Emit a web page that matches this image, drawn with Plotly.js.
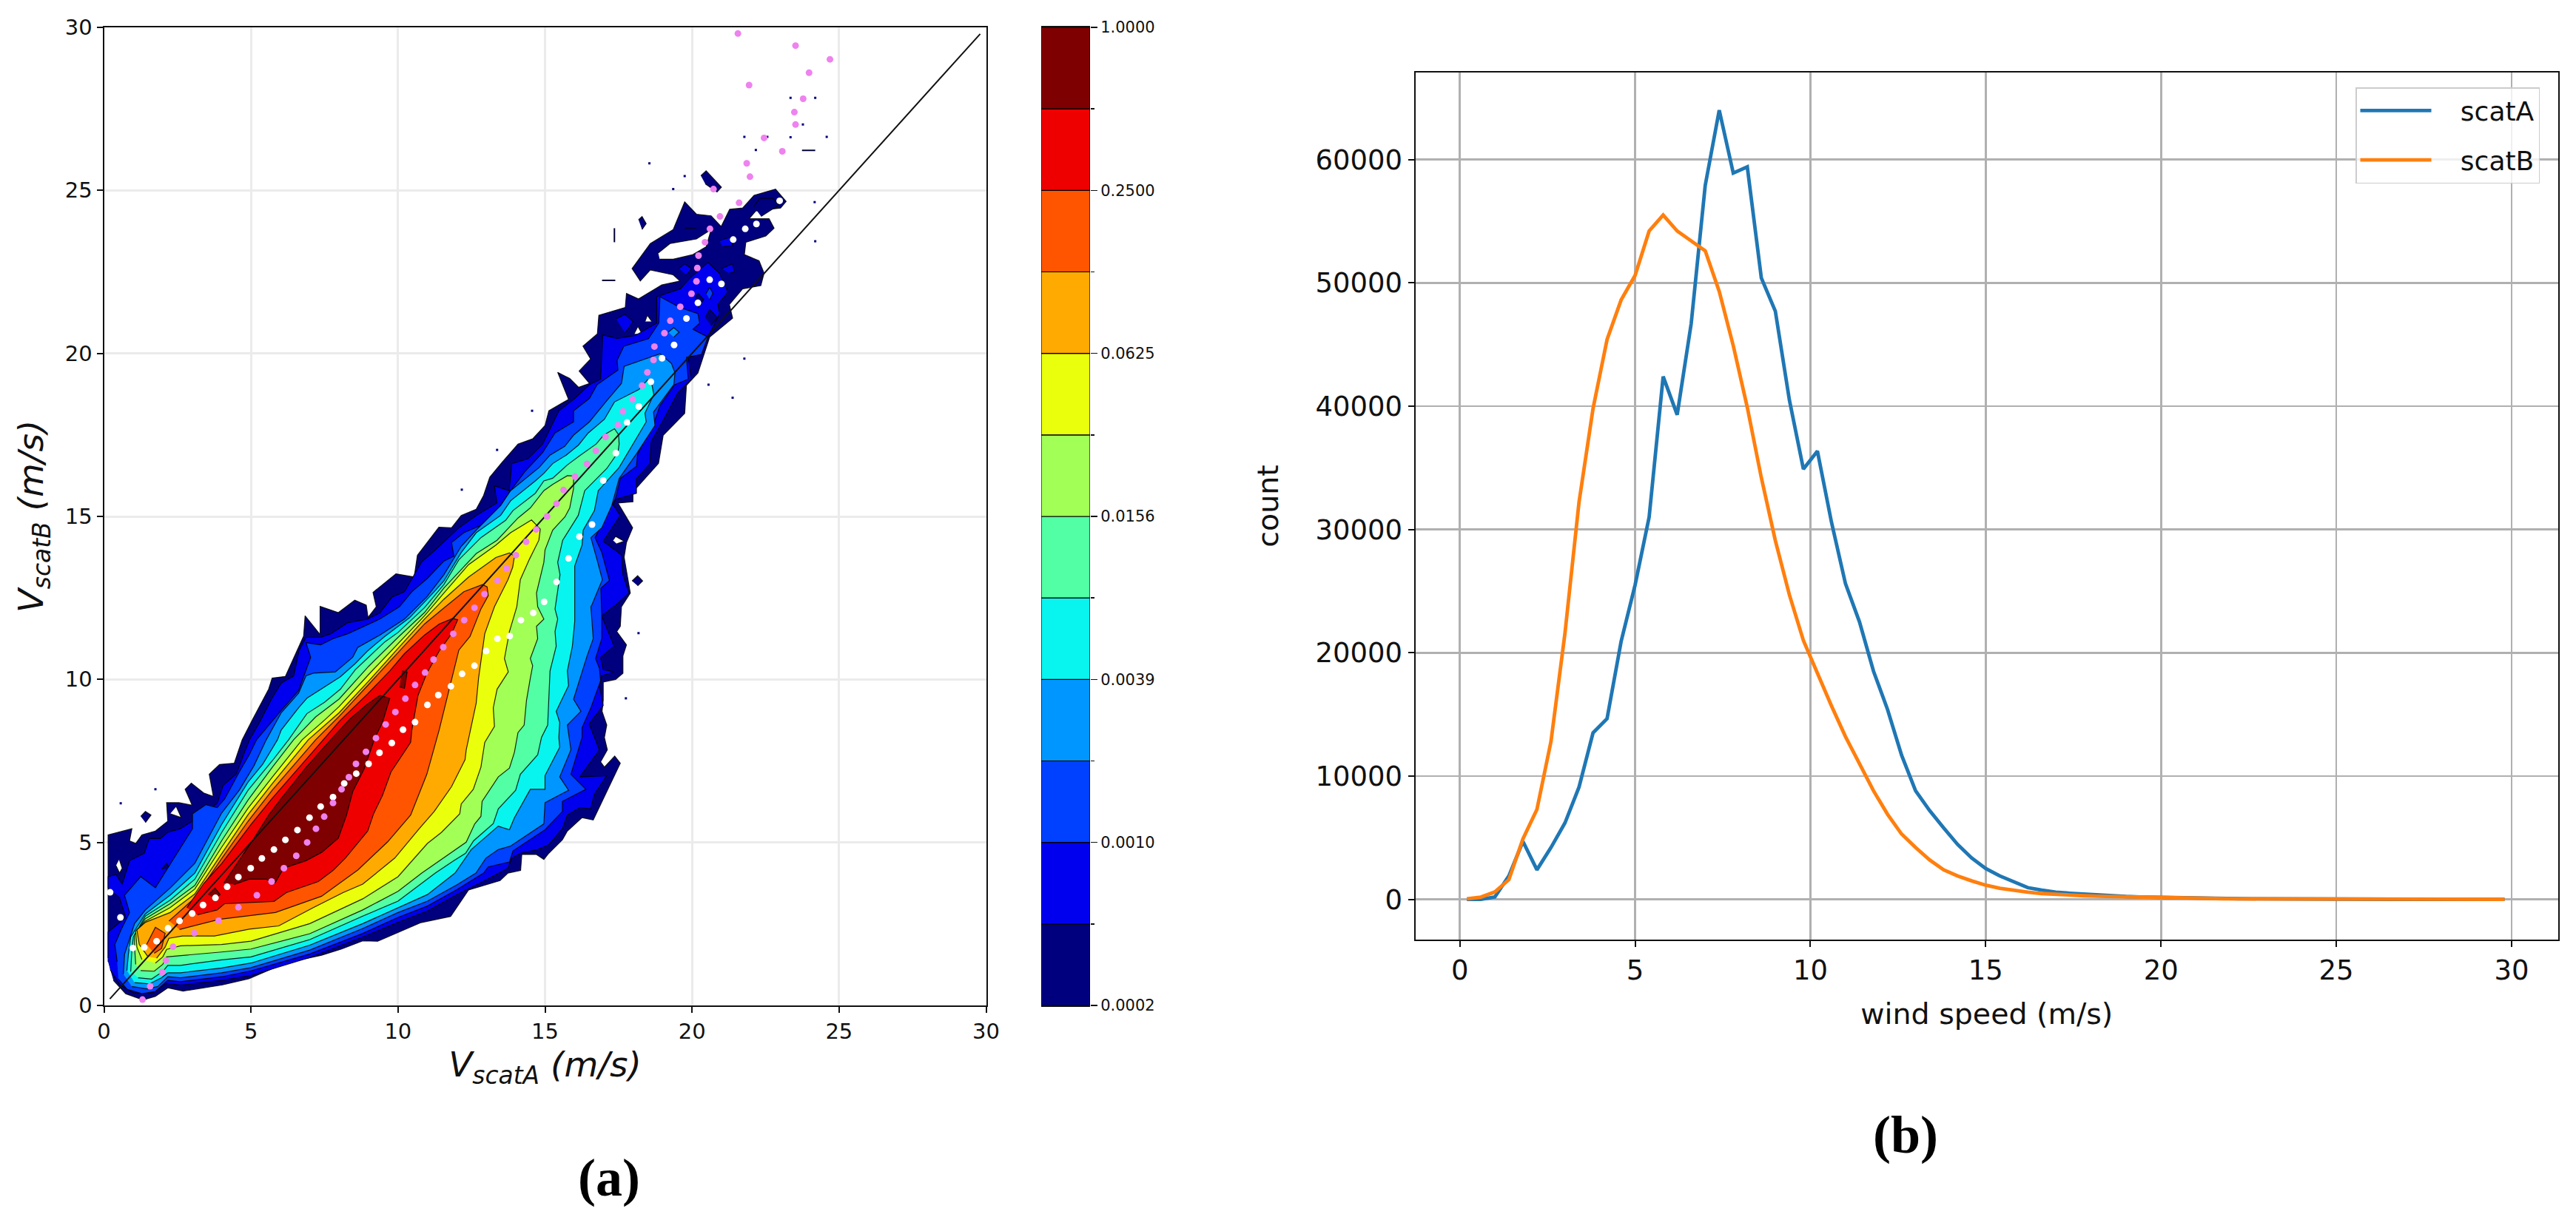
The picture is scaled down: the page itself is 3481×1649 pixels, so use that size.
<!DOCTYPE html>
<html><head><meta charset="utf-8">
<script src="https://cdn.plot.ly/plotly-3.0.1.min.js"></script>
<style>html,body{margin:0;padding:0;background:#fff;overflow:hidden}#c{width:3481px;height:1649px}</style>
</head><body><div id="c"></div>
<script>
// Panel (b) histogram
const windSpeedBins=[0.2,0.6,1,1.4,1.8,2.2,2.6,3,3.4,3.8,4.2,4.6,5,5.4,5.8,6.2,6.6,7,7.4,7.8,8.2,8.6,9,9.4,9.8,10.2,10.6,11,11.4,11.8,12.2,12.6,13,13.4,13.8,14.2,14.6,15,15.4,15.8,16.2,16.6,17,17.4,17.8,18.2,18.6,19,19.4,19.8,20.2,20.6,21,21.4,21.8,22.2,22.6,23,23.4,23.8,24.2,24.6,25,25.4,25.8,26.2,26.6,27,27.4,27.8,28.2,28.6,29,29.4,29.8];
const scatACounts=[0,0,200,1900,4700,2400,4200,6200,9100,13500,14650,20900,25500,31000,42400,39300,46700,57900,64000,58900,59400,50400,47700,40500,34900,36350,30600,25600,22500,18500,15400,11700,8800,7200,5800,4450,3350,2500,1900,1400,950,750,580,500,420,330,270,230,190,160,130,100,90,70,60,50,40,30,25,20,18,15,12,10,8,6,5,4,3,3,2,2,1,1,1];
const scatBCounts=[50,180,600,1600,4900,7300,12800,21600,32200,39800,45400,48600,50600,54200,55500,54200,53400,52600,49300,44900,39900,34200,29100,24700,21000,18300,15700,13200,11000,8800,6900,5300,4200,3200,2400,1900,1500,1150,900,720,580,470,390,340,290,250,220,190,160,130,110,90,80,60,50,40,35,30,25,20,15,12,10,8,6,5,4,3,3,2,2,1,1,1,1];
const seriesNames=['scatA','scatB'];
// Panel (a): contour level outlines, [scatA, scatB] in m/s, outermost (lowest density) first
const band1=[[.14,1.34],[.14,5.23],[.95,5.42],[.87,5.05],[1.08,4.97],[1.29,5.23],[1.75,5.35],[2.17,5.65],[2.13,6.22],[2.55,6.22],[3,6.14],[2.76,6.63],[2.97,6.82],[3.39,6.52],[3.72,6.41],[3.58,7.09],[3.93,7.39],[4.43,7.43],[4.7,8.15],[5.04,8.75],[5.6,9.7],[5.72,10.04],[6.17,10.09],[6.79,11.33],[6.84,11.95],[7.35,11.38],[7.35,12.24],[7.97,12.05],[8.53,12.43],[8.92,12.28],[8.98,11.9],[9.26,12.23],[9.15,12.67],[9.93,13.24],[10.55,13.14],[10.66,13.81],[11.39,14.67],[11.82,14.65],[12.15,15.03],[12.66,15.22],[12.91,15.64],[13.12,16.2],[13.54,16.66],[14.08,17.22],[14.58,17.38],[15,17.79],[15.13,18.24],[15.8,18.59],[15.43,19.42],[15.84,19.23],[16.14,18.96],[16.51,19.08],[16.16,19.46],[16.55,19.83],[16.29,20.22],[16.78,20.6],[16.83,21.17],[17.73,21.41],[17.77,21.84],[18.18,21.67],[18.97,22.1],[19.59,22.22],[19.36,22.41],[18.58,22.56],[18.24,22.22],[17.96,22.6],[18.58,23.37],[19.36,23.8],[19.75,24.65],[20.15,24.27],[20.65,24.22],[20.99,23.89],[21.28,24.42],[21.72,24.46],[22.11,24.85],[22.84,25.04],[23.2,24.66],[23.01,24.46],[22.17,24.37],[21.94,24.13],[22.62,24.13],[22.79,23.84],[22.51,23.6],[21.83,23.41],[21.78,23.03],[22.28,22.84],[22.45,22.46],[22.34,22.08],[21.72,21.98],[21.27,21.5],[21.38,21.08],[20.6,20.5],[20.2,19.4],[19.81,19.02],[19.75,18.16],[19.02,17.49],[18.86,16.63],[18.13,15.87],[17.99,15.75],[17.99,15.45],[17.48,15.41],[17.98,14.65],[17.77,14.2],[17.69,13.75],[17.9,12.65],[17.6,12.23],[17.56,11.63],[17.44,11.47],[17.77,11.06],[17.65,10.72],[17.65,10.19],[17.4,10],[16.98,9.92],[16.98,9.36],[16.94,9.02],[17.1,8.6],[17.02,8.22],[17.12,7.84],[16.89,7.47],[17.02,7.31],[17.37,7.65],[17.56,7.43],[17.18,6.71],[17.1,6.56],[16.64,5.69],[16.26,5.76],[15.76,5.35],[15.59,5.08],[15.13,4.67],[14.96,4.48],[14.71,4.63],[14.21,4.63],[14.17,4.14],[13.74,4.06],[13.47,3.83],[12.4,3.54],[11.79,2.73],[10.78,2.54],[9.31,1.97],[8.8,1.98],[8.08,1.73],[7.4,1.54],[6.17,1.3],[4.93,.82],[4.03,.63],[2.69,.44],[2.17,.54],[1.75,.28],[1.33,.17],[.74,.36],[.32,.77]];
const band2=[[.14,1.45],[.14,2.25],[.74,2.7],[.53,3.3],[.14,3.6],[.14,3.95],[.41,4.02],[.62,3.72],[.87,4.44],[1.37,4.67],[1.54,5.12],[1.92,5.12],[2.17,5.31],[2.59,5.42],[3,5.65],[3.39,5.9],[3.85,6.2],[4.05,6.75],[4.5,7.1],[4.75,7.7],[4.95,8.15],[5.3,8.7],[5.7,9.4],[6.03,9.89],[6.45,10.11],[6.63,10.87],[6.87,11.29],[7.37,11.29],[7.71,11.4],[8.29,11.74],[8.96,11.85],[9.38,12.04],[9.8,12.53],[10.22,12.69],[10.8,13.6],[11.3,14],[11.61,14.27],[12.07,14.65],[12.66,15.03],[13.36,15.41],[13.28,15.94],[13.78,15.79],[13.87,16.62],[14.42,16.77],[14.92,17.22],[15.09,17.53],[15.47,18.24],[16.01,18.62],[16.51,19.04],[16.89,19.21],[16.96,20.57],[17.45,20.46],[18.07,20.55],[18.8,20.93],[18.8,21.74],[19.6,21.98],[19.93,22.31],[20.54,22.79],[20.93,22.46],[21.22,21.89],[20.88,21.5],[20.94,21.22],[20.54,20.5],[20.2,19.97],[19.87,19.88],[19.98,19.21],[19.53,18.81],[18.99,17.9],[18.61,17.3],[18.57,16.62],[18.11,16.16],[18.11,15.71],[17.4,15.52],[17.31,15.37],[17.56,15.03],[16.98,14.24],[17.6,13.82],[17.65,13.21],[17.86,12.65],[17.5,12.35],[16.93,11.95],[17.35,11.02],[16.89,10.68],[16.98,10.3],[17.35,10.23],[16.93,10.11],[16.85,9.81],[16.98,9.2],[16.5,8.64],[16.85,7.84],[16.18,7.01],[17.1,7.05],[16.68,6.48],[16.55,6.03],[16.18,6.07],[15.76,5.84],[15.59,5.42],[15.13,4.93],[14.75,4.78],[14.17,4.67],[13.87,4.52],[13.74,4.21],[13,3.85],[12,3.4],[11,2.9],[10,2.55],[8.8,2.1],[7,1.47],[5,.92],[4,.77],[2.6,.62],[2.12,.68],[1.67,.39],[1,.39],[.55,.63],[.21,1.1]];
const band3=[[.45,1.34],[.37,1.87],[.58,2.32],[.87,2.85],[.7,3.38],[1.25,3.95],[1.75,3.61],[2.63,4.89],[3.01,5.42],[3.01,5.88],[3.47,6.16],[3.85,6.07],[4.1,6.33],[4.6,7.16],[4.94,7.69],[5.19,8.15],[5.6,8.6],[6.03,9.05],[6.62,9.66],[6.87,10.26],[7.03,10.68],[6.87,11.13],[7.37,11.06],[7.79,11.25],[8.29,11.4],[9.38,11.85],[10.05,12.23],[10.47,12.69],[11,13.1],[11.56,13.63],[11.9,13.78],[11.82,14.2],[12.24,14.5],[13.12,14.84],[13.54,15.41],[13.83,15.79],[14.33,16.39],[14.92,16.96],[15.34,17.56],[15.97,17.9],[15.97,18.24],[16.51,18.62],[16.77,19.04],[17.48,19.49],[17.45,19.78],[17.68,20.22],[18.52,20.45],[18.87,20.93],[18.91,21.74],[19.58,21.41],[20.2,21.22],[20.26,20.93],[20.03,20.74],[20.54,20.5],[20.32,19.97],[19.81,19.88],[19.87,19.21],[19.41,19.04],[18.91,18.4],[18.69,17.83],[18.15,16.92],[18.11,16.54],[17.56,16.16],[17.4,15.56],[16.7,14.35],[16.93,13.9],[17.19,13.03],[16.9,12.8],[16.93,11.97],[16.93,11.25],[16.72,10.64],[16.85,10.34],[16.89,9.96],[16.56,9.13],[16.26,8.52],[16.26,8.22],[15.88,7.09],[16.39,6.63],[15.59,6.26],[15.59,5.95],[15,5.39],[13.91,4.74],[13.79,4.4],[13.07,4.25],[12.91,4.06],[12,3.55],[11,3.05],[10,2.7],[8.8,2.21],[7,1.58],[5,1.06],[4,.88],[2.6,.73],[2.17,.77],[1.75,.43],[1.29,.36],[.78,.5],[.49,.81]];
const band4=[[.66,.96],[.7,1.57],[1.04,2.51],[1.41,2.93],[2.25,3.6],[3.09,4.36],[4,5.9],[4.6,6.6],[5.1,7.35],[5.52,8.15],[6.03,8.98],[6.62,9.58],[6.87,10.11],[7.12,10.19],[7.87,10.23],[8.46,10.68],[8.63,10.98],[9.38,11.36],[10.22,11.85],[10.98,12.53],[11.56,13.21],[12.15,14.08],[12.66,14.58],[13.49,15.33],[13.83,15.79],[14.5,16.28],[14.8,16.5],[15.17,16.88],[15.67,17.15],[15.97,17.49],[16.51,17.9],[17.1,18.55],[17.6,19.08],[17.69,19.6],[18.41,19.83],[18.91,19.99],[19.3,19.69],[19.42,19.4],[19.38,19.04],[18.95,18.51],[18.69,18.2],[18.74,17.79],[18.11,16.92],[17.52,16.16],[17.27,15.33],[16.93,14.65],[16.56,14.35],[16.77,13.67],[16.95,13.06],[16.6,12.3],[16.56,12.23],[16.64,11.25],[16.43,10.72],[15.97,9.39],[16.22,9.02],[15.76,8.6],[15.88,7.84],[15.5,7.01],[15.8,6.6],[15,6.22],[14.96,5.57],[13.83,4.89],[13.41,4.78],[12.99,4.52],[12.65,4.06],[12,3.7],[11,3.2],[10,2.85],[8.8,2.36],[7,1.7],[5,1.16],[4,1],[2.6,.85],[2.17,.88],[1.83,.58],[1.46,.51],[.95,.58]];
const band5=[[.78,1.07],[.83,1.57],[.91,2.1],[1.41,2.81],[2.25,3.38],[3.09,4.06],[4,5.55],[4.9,6.85],[5.4,7.4],[5.9,8.15],[6.03,8.45],[6.62,9.13],[6.91,9.43],[7.45,9.74],[8.04,10.08],[8.55,10.49],[8.96,10.87],[9.55,11.32],[10.39,11.89],[11.23,12.69],[11.56,13.02],[12.15,13.89],[12.66,14.5],[13.49,15.03],[13.83,15.48],[14.67,16.09],[14.96,16.32],[15.26,16.62],[15.72,16.88],[16.14,17.19],[16.47,17.56],[17.02,17.98],[17.36,18.51],[18.19,18.89],[18.49,19.19],[18.6,19.2],[18.7,18.74],[18.4,18.17],[18.44,17.9],[17.52,16.5],[16.81,15.79],[16.68,15.18],[16.3,14.58],[16.26,14.12],[16.01,13.48],[16.01,11.78],[15.93,11.02],[15.76,10.26],[15.8,9.81],[15.38,9.02],[15.5,8.68],[15.47,8.22],[15.5,7.92],[15,7.05],[15,6.63],[14.5,6.63],[13.96,5.76],[13.79,5.39],[13.41,5.5],[12.49,4.78],[11.94,4.06],[11,3.4],[10,3],[8.8,2.51],[7,1.85],[5,1.3],[4,1.15],[2.6,1],[2.17,1],[1.96,.85],[1.54,.66],[1.04,.7]];
const band6=[[.91,1.04],[.95,1.72],[1,2.1],[1.41,2.74],[2.25,3.23],[3.09,3.87],[4,5.3],[4.9,6.6],[5.72,7.5],[6.28,8.15],[6.9,8.95],[7.5,9.3],[8.04,9.7],[8.55,10.3],[8.96,10.65],[9.55,11.15],[10,11.44],[10.9,12.2],[11.56,12.91],[12.07,13.67],[12.82,14.35],[13.66,14.88],[13.91,15.18],[14.67,15.71],[14.96,16.09],[15.26,16.17],[15.76,16.58],[16.16,16.85],[16.74,17.22],[16.99,17.49],[17.36,17.69],[17.5,17.51],[17.52,17.22],[17.48,16.96],[17.1,16.47],[16.35,15.79],[16.13,15.03],[15.6,14.27],[15.43,13.59],[15.51,13.21],[15.34,12.16],[15.43,11.85],[15.34,11.47],[15.38,11.02],[15.17,10.26],[15.13,9.58],[15.09,8.6],[14.88,8.22],[14.75,7.69],[14.16,7.09],[14,6.6],[13.41,6.03],[13.24,5.58],[12.57,5.05],[12.3,4.67],[11.9,4.44],[11.27,4.06],[10,3.2],[8.8,2.74],[7,2.02],[5,1.49],[4,1.4],[2.6,1.23],[2.17,1.23],[2,1.04],[1.62,.81],[1.16,.85]];
const band7=[[1.08,1.26],[1.04,1.79],[1.04,2.17],[1.41,2.66],[2.25,3.12],[3.09,3.68],[4,5.05],[4.9,6.3],[5.72,7.3],[6.45,8.15],[7.2,8.85],[8,9.4],[9,10.4],[10,11.29],[10.9,12.05],[11.56,12.8],[12.15,13.37],[12.66,13.86],[13.37,14.27],[14.08,14.95],[14.5,15.26],[14.96,15.79],[15.26,15.98],[15.76,16.25],[15.97,16.24],[15.97,15.86],[15.84,15.26],[15.68,14.99],[15.26,14.58],[15,13.97],[14.96,13.59],[14.71,12.65],[14.75,12.23],[14.96,11.85],[14.71,11.63],[14.75,11.25],[14.5,10.64],[14.58,10.42],[14.5,10.04],[14.37,9.36],[14.29,8.6],[14.08,8.37],[13.96,7.77],[13.79,7.28],[13.41,7.01],[12.86,6.26],[12.82,5.8],[12.61,5.57],[12.32,5.01],[11.4,4.44],[10.81,4.06],[10,3.5],[8.8,2.93],[7,2.2],[5,1.73],[4,1.64],[2.6,1.53],[2.13,1.49],[2,1.26],[1.71,1.05],[1.25,1.07]];
const band8=[[1.29,1.41],[1.12,1.79],[1.08,2.28],[1.41,2.59],[2.25,3],[3.09,3.57],[4,4.85],[4.9,6.05],[5.72,7],[6.74,8.15],[7.5,8.75],[8,9.17],[9,10.15],[10,11.1],[10.9,11.95],[11.56,12.65],[12.4,13.52],[13.33,14.12],[13.83,14.5],[14.54,14.89],[14.84,14.61],[14.79,14.27],[14.46,13.67],[14.16,13.06],[14.04,12.23],[13.79,11.47],[13.62,10.64],[13.75,10.23],[13.37,9.7],[13.24,9.13],[13.28,8.56],[12.95,8.07],[12.82,7.31],[12.56,6.63],[12.15,6.18],[12.1,5.88],[11.48,5.31],[11,4.97],[10,3.95],[8.8,3.27],[7,2.51],[5,1.97],[4,1.87],[2.6,1.83],[2.13,1.72],[2,1.49],[1.75,1.3]];
const band9=[[1.5,1.49],[1.2,1.87],[1.12,2.32],[1.41,2.55],[2.25,2.85],[3.09,3.42],[4,4.65],[4.9,5.85],[5.72,6.8],[6.95,8.15],[8,8.98],[9,9.95],[10,10.95],[10.9,11.85],[11.56,12.46],[12.4,13.14],[13.33,13.74],[13.79,13.88],[13.96,13.78],[13.9,13.44],[13.74,13.06],[13.28,12.23],[12.95,11.4],[12.74,10.04],[12.66,9.28],[12.32,7.84],[12.28,7.54],[11.82,6.71],[11.23,5.95],[10.72,5.42],[9.89,4.52],[8.8,3.72],[8.13,3.46],[7.12,3],[5.94,2.44],[4.94,2.34],[3.76,2.13],[2.67,2.13],[2.21,2.06],[2.08,1.79],[1.79,1.45]];
const band10=[[2.21,2.59],[2.84,3.1],[3.09,3.3],[4,4.5],[4.9,5.65],[5.72,6.6],[7.2,8.15],[8,8.87],[9,9.85],[10,10.83],[10.9,11.7],[11.56,12.19],[12.24,12.69],[12.87,12.91],[13.03,12.84],[13.07,12.57],[12.82,12.16],[12.45,11.32],[12.07,10.9],[11.73,9.66],[11.4,8.45],[10.98,7.09],[10.43,5.84],[9.65,5.02],[8.64,4.16],[7.4,3.35],[5.83,2.85],[3.92,2.64],[2.57,2.33]];
const band10Lobe=[[1.45,1.87],[1.75,2.4],[2.08,2.21],[1.96,1.75],[1.71,1.6]];
const band11=[[2.82,3],[3.4,3.75],[4,4.35],[5,5.55],[5.72,6.35],[6.5,7.15],[7.45,8.15],[8,8.71],[8.96,9.55],[9.72,10.26],[10.22,10.79],[10.9,11.36],[11.4,11.7],[11.86,11.87],[12.03,11.83],[11.82,11.4],[11.4,10.87],[10.98,10.19],[10.68,9.51],[10.47,8.45],[10.43,8.07],[10.05,7.54],[9.76,7.16],[9.47,6.44],[9.17,5.88],[8.97,5.35],[8.21,4.52],[7.79,4.14],[7.29,3.8],[6.2,3.46],[5.78,3.19],[4.1,3.12],[3.85,2.93],[3.18,2.78]];
const band12=[[4.08,3.76],[4.6,4.45],[5.1,5.12],[5.61,5.85],[6.03,6.35],[6.87,7.3],[7.71,8.15],[8.38,8.8],[8.96,9.24],[9.38,9.51],[9.72,9.42],[9.47,8.68],[9.22,8.22],[8.84,7.24],[8.46,6.56],[8.25,5.84],[7.97,5.13],[7.41,4.7],[6.87,4.44],[6.11,4.21],[5.82,3.76],[5.52,3.87],[4.94,3.87],[4.43,3.71]];
const band12Isle1=[[3.55,3.4],[3.78,3.6],[3.95,3.4],[3.76,3.28]];
const band12Isle2=[[10.14,10.26],[10.31,10.23],[10.22,9.73],[10.05,9.77]];
// islands of the outer levels and empty holes
const navyIsles=[[[1.25,5.8],[1.41,5.95],[1.6,5.84],[1.41,5.61]],[[17.96,13.02],[18.15,13.18],[18.32,13.02],[18.15,12.87]],[[20.3,25.45],[20.48,25.6],[21.0,25.1],[20.85,24.95],[20.45,25.2]],[[22.1,24.5],[22.3,24.76],[22.75,24.76],[22.95,24.55],[22.35,24.2]],[[18.18,24.1],[18.3,24.2],[18.44,23.98],[18.3,23.8]]];
const holes=[[[18.85,23.08],[19.25,23.37],[20.15,23.51],[20.65,23.8],[20.48,23.27],[20.03,23.03],[19.36,22.89],[18.9,22.89]],[[.52,4.48],[.62,4.21],[.53,4.06],[.41,4.29]],[[2.46,6.1],[2.63,5.76],[2.25,5.88]],[[18.4,20.98],[18.48,21.17],[18.63,20.98]],[[18.03,20.6],[18.16,20.83],[18.3,20.6]],[[17.31,14.27],[17.4,14.39],[17.69,14.24],[17.44,14.16]]];
const band2Isles=[[[17.42,21.06],[17.72,21.2],[18,20.97],[17.72,20.63]],[[19.55,22.6],[19.75,22.75],[19.98,22.6],[19.81,22.41]],[[20.93,23.46],[21.28,23.56],[21.38,23.31],[21.04,23.27]],[[21,22.6],[21.38,22.75],[21.44,22.5],[21.27,22.46]]];
const navyInBand2=[[[1.96,4.18],[2.13,4.36],[2.25,4.18]],[[20.45,21.1],[20.6,21.35],[20.85,21.1],[20.65,20.85]],[[20.1,21.7],[20.2,21.85],[20.4,21.65],[20.2,21.4]]];
const band3Isle=[[20.48,21.84],[20.6,22.03],[20.71,21.84],[20.6,21.65]];
const band4Isle=[[19.19,20.65],[19.38,20.79],[19.56,20.65],[19.38,20.5]];
const speckX=[23.35,24.19,23.77,21.78,22.56,23.35,24.58,22.17,18.55,19.75,19.36,24.17,24.19,21.78,20.56,21.38,14.56,1.75,.57,18.18,17.75,13.37,12.17,15.76];
const speckY=[27.84,27.84,27.02,26.64,26.64,26.63,26.64,26.24,25.83,25.44,25.04,24.64,23.44,19.84,19.04,18.64,18.24,6.63,6.2,11.42,9.42,17.04,15.82,19.02];
const dashX=[17.36,17.36,null,16.94,17.39,null,19.75,20.15,null,23.74,24.19];
const dashY=[23.84,23.41,null,22.24,22.24,null,23.84,23.84,null,26.23,26.23];
const identityX=[0.2,29.8];
const identityY=[0.2,29.8];
const whiteX=[.21,.56,.98,1.37,1.79,2.18,2.57,3,3.37,3.79,4.19,4.57,4.99,5.37,5.78,6.17,6.58,6.99,7.37,7.79,8.17,8.58,9,9.37,9.79,10.17,10.58,11,11.37,11.8,12.18,12.6,13,13.38,13.8,14.18,14.6,14.97,15.39,15.8,16.17,16.6,16.98,17.41,17.79,18.19,18.6,18.98,19.39,19.81,20.2,20.6,21,21.4,21.81,22.19,22.98];
const whiteY=[3.47,2.7,1.76,1.78,1.97,2.37,2.59,2.82,3.08,3.3,3.64,3.94,4.21,4.51,4.78,5.08,5.38,5.76,6.1,6.39,6.81,7.11,7.41,7.75,8.05,8.46,8.69,9.22,9.52,9.79,10.17,10.42,10.87,11.25,11.33,11.82,12.04,12.38,12.99,13.71,14.38,14.75,16.1,16.94,17.88,18.37,19.13,19.85,20.26,21.07,21.55,22.26,22.13,23.49,23.82,23.97,24.68];
const violetX=[1.31,1.57,1.98,2.11,2.35,3.07,3.9,4.57,5.2,5.7,6.12,6.54,6.91,7.21,7.49,7.79,8.08,8.33,8.57,8.91,9.25,9.58,9.91,10.25,10.58,10.92,11.21,11.54,11.88,12.25,12.6,12.94,13.38,13.69,14.01,14.36,14.7,15.07,15.39,15.63,16.02,16.43,16.73,17.06,17.48,17.65,17.98,18.3,18.48,18.69,18.72,19.06,19.26,19.6,19.98,20.15,20.18,20.22,20.44,20.61,20.95,21.6,20.73,21.97,21.86,23.07,22.45,23.52,23.48,23.78,21.94,23.98,24.69,23.52,21.56];
const violetY=[.18,.59,1.02,1.38,1.8,2.22,2.6,3.01,3.38,3.8,4.21,4.59,5,5.42,5.79,6.21,6.63,7,7.41,7.78,8.2,8.62,9,9.41,9.83,10.21,10.61,10.99,11.4,11.82,12.2,12.62,13.03,13.41,13.81,14.22,14.6,15,15.39,15.81,16.22,16.61,17.01,17.44,17.8,18.22,18.59,19.01,19.42,19.8,20.21,20.62,21,21.43,21.83,22.21,22.62,23,23.41,23.82,24.2,24.62,25.04,25.42,25.83,26.2,26.61,27.02,27.4,27.81,28.23,28.61,29.02,29.44,29.81];
// Colour bar
const bandColors=['#00007f','#0000ee','#0040ff','#0096ff','#08f4ee','#52ffa5','#a2ff55','#eaff0c','#ffaa00','#ff5500','#ee0000','#7f0000'];
const barStarts=[0,1,2,3,4,5,6,7,8,9,10,11];
const barHeights=[1,1,1,1,1,1,1,1,1,1,1,1];
const barTickVals=[0,2,4,6,8,10,12];
const barMinorVals=[1,3,5,7,9,11];
const barTickText=['0.0002','0.0010','0.0039','0.0156','0.0625','0.2500','1.0000'];

const W=3481,H=1649;
const dx=(a,b)=>[a/W,b/W];
const dy=(top,bot)=>[1-bot/H,1-top/H];
const FONT='"DejaVu Sans", sans-serif';
const LINE='rgba(0,0,0,0.85)';
function poly(pts,color,lw){
  return {type:'scatter',mode:'lines',x:pts.map(p=>p[0]),y:pts.map(p=>p[1]),fill:'toself',fillcolor:color,
    line:{color:LINE,width:lw===undefined?1.2:lw,shape:'linear'},xaxis:'x',yaxis:'y',showlegend:false,hoverinfo:'skip'};
}
const traces=[];
traces.push(poly(band1,bandColors[0]));
navyIsles.forEach(p=>traces.push(poly(p,bandColors[0])));
holes.forEach(p=>traces.push(poly(p,'#ffffff')));
traces.push(poly(band2,bandColors[1]));
navyInBand2.forEach(p=>traces.push(poly(p,bandColors[0])));
band2Isles.forEach(p=>traces.push(poly(p,bandColors[1])));
traces.push(poly(band3,bandColors[2]));
traces.push(poly(band3Isle,bandColors[2]));
traces.push(poly(band4,bandColors[3]));
traces.push(poly(band4Isle,bandColors[3]));
traces.push(poly(band5,bandColors[4]));
traces.push(poly(band6,bandColors[5]));
traces.push(poly(band7,bandColors[6]));
traces.push(poly(band8,bandColors[7]));
traces.push(poly(band9,bandColors[8]));
traces.push(poly(band10,bandColors[9]));
traces.push(poly(band10Lobe,bandColors[9]));
traces.push(poly(band11,bandColors[10]));
traces.push(poly(band12,bandColors[11]));
traces.push(poly(band12Isle1,bandColors[11]));
traces.push(poly(band12Isle2,bandColors[11]));
traces.push({type:'scatter',mode:'markers',x:speckX,y:speckY,marker:{color:bandColors[0],size:3,symbol:'square'},showlegend:false,hoverinfo:'skip'});
traces.push({type:'scatter',mode:'lines',x:dashX,y:dashY,line:{color:'#000033',width:2},showlegend:false,hoverinfo:'skip'});
traces.push({type:'scatter',mode:'lines',x:identityX,y:identityY,line:{color:'#111',width:2},showlegend:false,hoverinfo:'skip'});
traces.push({type:'scatter',mode:'markers',x:whiteX,y:whiteY,marker:{color:'#ffffff',size:9},showlegend:false,hoverinfo:'skip'});
traces.push({type:'scatter',mode:'markers',x:violetX,y:violetY,marker:{color:'#ee82ee',size:9},showlegend:false,hoverinfo:'skip'});
// colour bar as stacked cells
traces.push({type:'bar',x:barStarts.map(()=>0),y:barHeights,base:barStarts,width:1,
  marker:{color:bandColors,line:{color:'#000',width:1.2}},xaxis:'x3',yaxis:'y3',showlegend:false,hoverinfo:'skip'});
// panel b
const legendPad='\u00a0\u00a0\u00a0';
traces.push({type:'scatter',mode:'lines',name:legendPad+seriesNames[0],x:windSpeedBins,y:scatACounts,line:{color:'#1f77b4',width:4.8},xaxis:'x2',yaxis:'y2',legendgroup:'a'});
traces.push({type:'scatter',mode:'lines',name:legendPad+seriesNames[1],x:windSpeedBins,y:scatBCounts,line:{color:'#ff7f0e',width:4.8},xaxis:'x2',yaxis:'y2',legendgroup:'b'});

const layout={
  width:W,height:H,margin:{l:0,r:0,t:0,b:0,pad:0},paper_bgcolor:'#fff',plot_bgcolor:'#fff',
  font:{family:FONT,color:'#111'},bargap:0,
  xaxis:{domain:dx(140.5,1332.5),range:[0,30],dtick:5,tick0:0,showgrid:true,gridcolor:'#ebebeb',gridwidth:3,zeroline:false,
    showline:true,mirror:true,linecolor:'#111',linewidth:2,ticks:'outside',ticklen:8,tickwidth:2,tickcolor:'#111',
    tickfont:{size:29,family:FONT},anchor:'y',
    title:{text:'<i>V<sub>scatA</sub> (m/s)</i>',font:{size:47,family:FONT},standoff:8}},
  yaxis:{domain:dy(37,1359),range:[0,30],dtick:5,tick0:0,showgrid:true,gridcolor:'#ebebeb',gridwidth:3,zeroline:false,
    showline:true,mirror:true,linecolor:'#111',linewidth:2,ticks:'outside',ticklen:8,tickwidth:2,tickcolor:'#111',
    tickfont:{size:29,family:FONT},anchor:'x',
    title:{text:'<i>V<sub>scatB</sub> (m/s)</i>',font:{size:47,family:FONT},standoff:14}},
  xaxis2:{domain:dx(1912.5,3457),range:[-1.27,31.33],dtick:5,tick0:0,showgrid:true,gridcolor:'#b0b0b0',gridwidth:2.6,zeroline:false,
    showline:true,mirror:true,linecolor:'#111',linewidth:2,ticks:'outside',ticklen:8,tickwidth:2,tickcolor:'#111',
    tickfont:{size:37,family:FONT},anchor:'y2',
    title:{text:'wind speed (m/s)',font:{size:39.5,family:FONT},standoff:24}},
  yaxis2:{domain:dy(98,1270),range:[-3264,67056],dtick:10000,tick0:0,tickformat:'d',showgrid:true,gridcolor:'#b0b0b0',gridwidth:2.6,zeroline:false,
    showline:true,mirror:true,linecolor:'#111',linewidth:2,ticks:'outside',ticklen:8,tickwidth:2,tickcolor:'#111',
    tickfont:{size:37,family:FONT},anchor:'x2',
    title:{text:'count',font:{size:39.5,family:FONT},standoff:38}},
  xaxis3:{domain:dx(1407,1473),range:[-.5,.5],showticklabels:false,ticks:'',showgrid:false,zeroline:false,showline:true,mirror:true,linecolor:'#111',linewidth:2,anchor:'y3',fixedrange:true},
  yaxis3:{domain:dy(37,1359),range:[0,12],side:'right',anchor:'x3',tickmode:'array',tickvals:barTickVals,ticktext:barTickText,
    ticks:'outside',ticklen:9,tickwidth:1.5,tickcolor:'#111',showgrid:false,zeroline:false,tickfont:{size:21,family:FONT},
    minor:{tickmode:'array',tickvals:barMinorVals,ticks:'outside',ticklen:5,tickwidth:1.5,tickcolor:'#111',showgrid:false}},
  legend:{x:3183/W,y:1-118/H,xanchor:'left',yanchor:'top',bgcolor:'rgba(255,255,255,0.8)',bordercolor:'#ccc',borderwidth:1.5,
    font:{size:36,family:FONT},itemwidth:96,traceorder:'grouped',tracegroupgap:17},
  annotations:[
    {text:'<b>(a)</b>',x:823/W,y:1-1592/H,xref:'paper',yref:'paper',xanchor:'center',yanchor:'middle',showarrow:false,font:{size:72,family:'"Liberation Serif", serif',color:'#000'}},
    {text:'<b>(b)</b>',x:2575/W,y:1-1534/H,xref:'paper',yref:'paper',xanchor:'center',yanchor:'middle',showarrow:false,font:{size:72,family:'"Liberation Serif", serif',color:'#000'}}
  ]
};
Plotly.newPlot('c',traces,layout,{displayModeBar:false,staticPlot:true});
</script></body></html>
